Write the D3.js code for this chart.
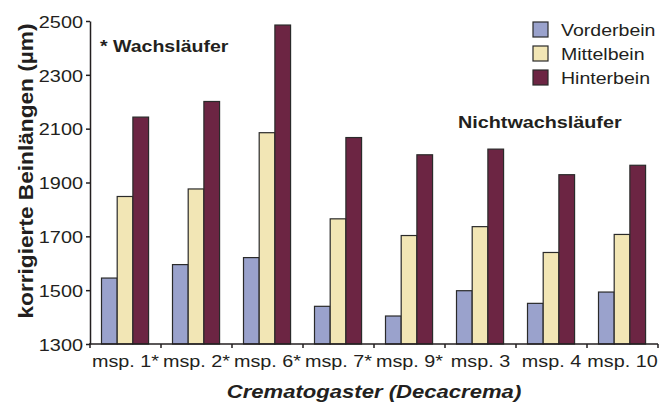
<!DOCTYPE html>
<html>
<head>
<meta charset="utf-8">
<script src="https://cdn.jsdelivr.net/npm/d3@7"></script>
<style>
  html, body { margin: 0; padding: 0; background: #fff; }
  svg { display: block; }
  text { font-family: "Liberation Sans", Arial, sans-serif; fill: #231f20; }
</style>
</head>
<body>
<svg id="chart" width="660" height="403"></svg>
<script>
// Leg lengths per species (µm)
const categories = ["msp. 1*", "msp. 2*", "msp. 6*", "msp. 7*", "msp. 9*", "msp. 3", "msp. 4", "msp. 10"];
const series = ["Vorderbein", "Mittelbein", "Hinterbein"];
const vorderbein = [1545, 1595, 1621, 1440, 1404, 1498, 1451, 1493];
const mittelbein = [1848, 1876, 2085, 1765, 1703, 1736, 1640, 1707];
const hinterbein = [2143, 2201, 2485, 2067, 2003, 2024, 1929, 1964];
const yTicks = [1300, 1500, 1700, 1900, 2100, 2300, 2500];
const colors = ["#9aa2cc", "#f2e6b5", "#6c2543"];

(function () {
  const values = [vorderbein, mittelbein, hinterbein];
  const rows = categories.map((c, i) => ({ cat: c, vals: series.map((s, j) => ({ key: s, v: values[j][i] })) }));

  const svg = d3.select("#chart");
  const plotLeft = 90, plotRight = 658, plotTop = 21, plotBottom = 344;
  const sx = 1.15; // horizontal stretch of the lettering
  const ink = "#231f20";

  const x = d3.scaleBand().domain(categories).range([plotLeft, plotRight]).padding(0);
  const bw = x.bandwidth();
  const xInner = d3.scaleBand().domain(series).range([bw * 0.162, bw * 0.825]).padding(0);
  const y = d3.scaleLinear().domain([1300, 2500]).range([plotBottom, plotTop]);

  // Bars
  const groups = svg.append("g").selectAll("g").data(rows).join("g")
    .attr("transform", d => `translate(${x(d.cat)},0)`);
  groups.selectAll("rect").data(d => d.vals).join("rect")
    .attr("x", d => xInner(d.key))
    .attr("width", xInner.bandwidth())
    .attr("y", d => y(d.v))
    .attr("height", d => y(1300) - y(d.v))
    .attr("fill", (d, i) => colors[i])
    .attr("stroke", "#2a2a2a")
    .attr("stroke-width", 1.2);

  // Y axis
  const yAxis = svg.append("g").attr("transform", `translate(${plotLeft},0)`)
    .call(d3.axisLeft(y).tickValues(yTicks).tickSize(4).tickSizeOuter(0).tickFormat(d3.format("d")));
  yAxis.select(".domain").attr("stroke", ink).attr("stroke-width", 1.5);
  yAxis.selectAll(".tick line").attr("stroke", ink).attr("stroke-width", 1.5);
  yAxis.selectAll(".tick text")
    .attr("x", 0).attr("dy", "0.36em")
    .attr("transform", `translate(-7,0) scale(${sx},1)`)
    .style("font-size", "17.3px");

  // X axis: ticks mark the category boundaries
  const boundaries = categories.map(c => x(c)).concat([plotRight]);
  const xAxis = svg.append("g");
  xAxis.append("line")
    .attr("x1", plotLeft - 1).attr("x2", plotRight)
    .attr("y1", plotBottom).attr("y2", plotBottom)
    .attr("stroke", ink).attr("stroke-width", 1.5);
  xAxis.selectAll("line.tk").data(boundaries).join("line").attr("class", "tk")
    .attr("x1", d => d).attr("x2", d => d)
    .attr("y1", plotBottom).attr("y2", plotBottom + 4)
    .attr("stroke", ink).attr("stroke-width", 1.5);
  xAxis.selectAll("text").data(categories).join("text")
    .attr("text-anchor", "middle")
    .attr("transform", d => `translate(${x(d) + bw / 2},367) scale(${sx},1)`)
    .style("font-size", "17.2px")
    .text(d => d);

  // Axis titles
  svg.append("text")
    .attr("text-anchor", "middle")
    .attr("transform", `translate(374,398) scale(${sx},1)`)
    .style("font-size", "19.2px").style("font-weight", "bold").style("font-style", "italic")
    .text("Crematogaster (Decacrema)");

  svg.append("text")
    .attr("text-anchor", "middle")
    .attr("transform", "translate(33,171) rotate(-90)")
    .attr("textLength", 295).attr("lengthAdjust", "spacingAndGlyphs")
    .style("font-size", "19.5px").style("font-weight", "bold")
    .text("korrigierte Beinlängen (µm)");

  // Group annotations
  svg.append("text")
    .attr("transform", `translate(100,52) scale(${sx},1)`)
    .style("font-size", "17px").style("font-weight", "bold")
    .text("* Wachsläufer");
  svg.append("text")
    .attr("transform", `translate(458,128) scale(${sx},1)`)
    .style("font-size", "17.2px").style("font-weight", "bold")
    .text("Nichtwachsläufer");

  // Legend
  const legend = svg.append("g").selectAll("g").data(series).join("g")
    .attr("transform", (d, i) => `translate(533,${22 + i * 24})`);
  legend.append("rect")
    .attr("width", 15).attr("height", 15)
    .attr("fill", (d, i) => colors[i])
    .attr("stroke", "#2a2a2a").attr("stroke-width", 1.2);
  legend.append("text")
    .attr("transform", `translate(28,14) scale(${sx},1)`)
    .style("font-size", "17px")
    .text(d => d);
})();
</script>
</body>
</html>
